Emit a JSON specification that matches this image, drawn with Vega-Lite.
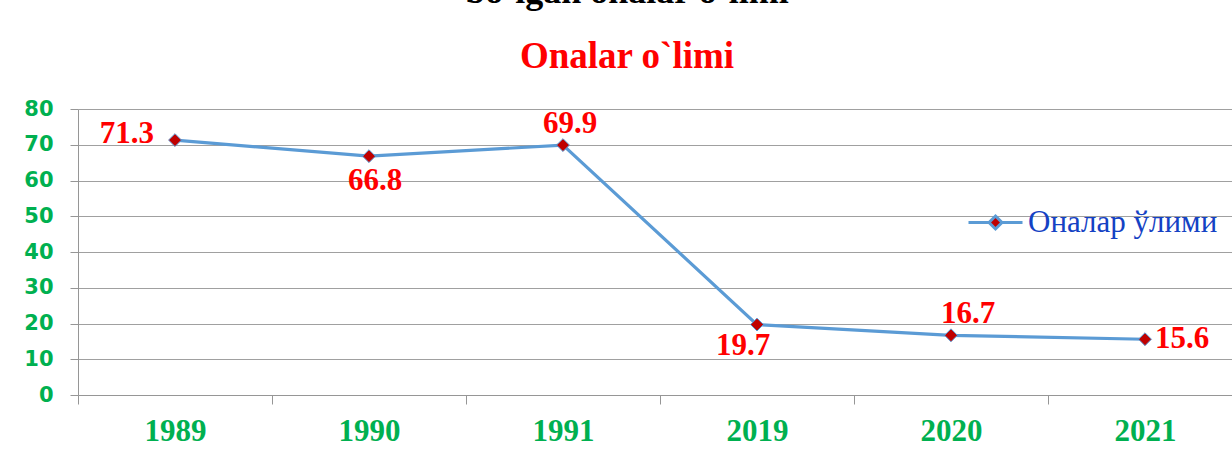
{
  "$schema": "https://vega.github.io/schema/vega-lite/v6.json",
  "width": 1164,
  "height": 286,
  "autosize": {"type": "none"},
  "padding": {"left": 78, "top": 109, "right": -10, "bottom": 66},
  "background": "white",
  "title": {
    "text": "bo`lgan onalar o`limi",
    "subtitle": "Onalar o`limi",
    "anchor": "middle",
    "frame": "group",
    "dx": -33,
    "offset": 22,
    "font": "Liberation Serif",
    "fontSize": 36,
    "fontWeight": "bold",
    "color": "black",
    "subtitleFont": "Liberation Serif",
    "subtitleFontSize": 37,
    "subtitleFontWeight": "bold",
    "subtitleColor": "#ff0000",
    "subtitlePadding": 28
  },
  "data": {
    "values": [
      {"year": "1989", "value": 71.3, "series": "Оналар ўлими"},
      {"year": "1990", "value": 66.8, "series": "Оналар ўлими"},
      {"year": "1991", "value": 69.9, "series": "Оналар ўлими"},
      {"year": "2019", "value": 19.7, "series": "Оналар ўлими"},
      {"year": "2020", "value": 16.7, "series": "Оналар ўлими"},
      {"year": "2021", "value": 15.6, "series": "Оналар ўлими"}
    ]
  },
  "encoding": {
    "x": {
      "field": "year",
      "type": "ordinal",
      "sort": null,
      "scale": {"type": "band", "paddingInner": 0, "paddingOuter": 0},
      "axis": {
        "title": null,
        "labelAngle": 0,
        "tickBand": "extent",
        "grid": false,
        "domainColor": "#969696",
        "tickColor": "#969696",
        "tickSize": 9,
        "labelFont": "Liberation Serif",
        "labelFontSize": 31,
        "labelFontWeight": "bold",
        "labelColor": "#00b050",
        "labelPadding": 12
      }
    },
    "y": {
      "field": "value",
      "type": "quantitative",
      "scale": {"domain": [0, 80], "nice": false},
      "axis": {
        "title": null,
        "values": [0, 10, 20, 30, 40, 50, 60, 70, 80],
        "grid": true,
        "gridColor": "#a0a0a0",
        "domainColor": "#969696",
        "tickColor": "#969696",
        "tickSize": 8,
        "labelFont": "DejaVu Sans",
        "labelFontSize": 21,
        "labelFontWeight": "bold",
        "labelColor": "#00b050",
        "labelPadding": 17
      }
    }
  },
  "layer": [
    {
      "mark": {"type": "line", "strokeWidth": 3.2},
      "encoding": {
        "color": {
          "field": "series",
          "type": "nominal",
          "scale": {"range": ["#5b9bd5"]},
          "legend": {
            "title": null,
            "orient": "none",
            "legendX": 889,
            "legendY": 85,
            "symbolType": "M-1,0L-0.24,0M0.24,0L1,0M0,-0.24L0.24,0L0,0.24L-0.24,0Z",
            "symbolSize": 2916,
            "symbolStrokeWidth": 3,
            "labelFont": "Liberation Serif",
            "labelFontSize": 31,
            "labelColor": "#1442c4",
            "labelOffset": 4,
            "labelLimit": 400,
            "encode": {
              "symbols": {
                "update": {
                  "fill": {"value": "#c00000"},
                  "stroke": {"value": "#5b9bd5"},
                  "strokeWidth": {"value": 3}
                }
              }
            }
          }
        }
      }
    },
    {
      "mark": {"type": "point", "shape": "diamond", "filled": true, "fill": "#c00000", "stroke": "#5b9bd5", "strokeWidth": 1, "size": 165, "opacity": 1}
    },
    {
      "transform": [{"filter": "datum.year == '1989'"}],
      "mark": {"type": "text", "align": "right", "baseline": "middle", "dx": -21, "dy": -6, "font": "Liberation Serif", "fontSize": 31, "fontWeight": "bold", "color": "#ff0000"},
      "encoding": {"text": {"field": "value", "type": "quantitative", "format": ".1f"}}
    },
    {
      "transform": [{"filter": "datum.year == '1990'"}],
      "mark": {"type": "text", "align": "center", "baseline": "middle", "dx": 6, "dy": 25, "font": "Liberation Serif", "fontSize": 31, "fontWeight": "bold", "color": "#ff0000"},
      "encoding": {"text": {"field": "value", "type": "quantitative", "format": ".1f"}}
    },
    {
      "transform": [{"filter": "datum.year == '1991'"}],
      "mark": {"type": "text", "align": "center", "baseline": "middle", "dx": 7, "dy": -21, "font": "Liberation Serif", "fontSize": 31, "fontWeight": "bold", "color": "#ff0000"},
      "encoding": {"text": {"field": "value", "type": "quantitative", "format": ".1f"}}
    },
    {
      "transform": [{"filter": "datum.year == '2019'"}],
      "mark": {"type": "text", "align": "center", "baseline": "middle", "dx": -14, "dy": 21, "font": "Liberation Serif", "fontSize": 31, "fontWeight": "bold", "color": "#ff0000"},
      "encoding": {"text": {"field": "value", "type": "quantitative", "format": ".1f"}}
    },
    {
      "transform": [{"filter": "datum.year == '2020'"}],
      "mark": {"type": "text", "align": "center", "baseline": "middle", "dx": 17, "dy": -21, "font": "Liberation Serif", "fontSize": 31, "fontWeight": "bold", "color": "#ff0000"},
      "encoding": {"text": {"field": "value", "type": "quantitative", "format": ".1f"}}
    },
    {
      "transform": [{"filter": "datum.year == '2021'"}],
      "mark": {"type": "text", "align": "left", "baseline": "middle", "dx": 10, "dy": 0, "font": "Liberation Serif", "fontSize": 31, "fontWeight": "bold", "color": "#ff0000"},
      "encoding": {"text": {"field": "value", "type": "quantitative", "format": ".1f"}}
    }
  ],
  "config": {
    "view": {"stroke": null}
  }
}
